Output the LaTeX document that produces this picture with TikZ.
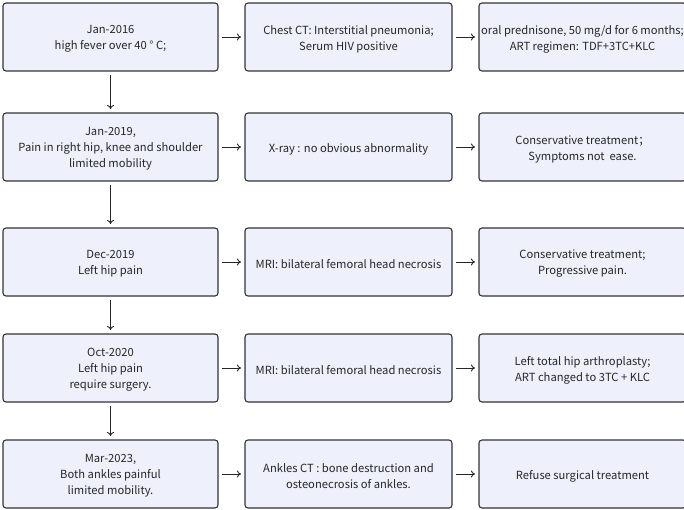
\documentclass[tikz,border=0pt]{standalone}
\usepackage{fontspec}
\setmainfont{Noto Sans CJK SC}
\usetikzlibrary{arrows.meta}
\definecolor{boxfill}{HTML}{EEF1FB}
\definecolor{boxline}{HTML}{333333}
\newcommand{\bx}[6]{%
  \node[#2] (#1) at (#3,#4) {};
  \node[txt] (t#1) at ([yshift=-2pt]#1.center) {#5#6};}
\begin{document}
\begin{tikzpicture}[x=1pt,y=-1pt,
  box/.style={draw=boxline, fill=boxfill, line width=1.1pt, rounded corners=3pt,
    minimum height=68pt, inner sep=0pt},
  txt/.style={inner sep=0pt, align=center,
    font=\fontsize{11.2}{16}\selectfont, text=black!85},
  c1/.style={box, minimum width=215pt},
  c2/.style={box, minimum width=207pt},
  c3/.style={box, minimum width=207pt},
  arr/.style={-{To[length=4pt,width=7pt]}, line width=0.9pt, black!85, shorten <=3.5pt, shorten >=3.5pt}]
\useasboundingbox (0,0) rectangle (684,510);
% rows
\bx{a1}{c1}{110.5}{37}{Jan-2016\\high fever over 40 ° C;}{}
\bx{b1}{c2}{348.5}{37}{Chest CT: Interstitial pneumonia;\\Serum HIV positive}{}
\bx{d1}{c3}{582.5}{37}{oral prednisone, 50 mg/d for 6 months;\\ART regimen: TDF+3TC+KLC}{}

\bx{a2}{c1}{110.5}{147}{Jan-2019,\\Pain in right hip, knee and shoulder\\limited mobility}{}
\bx{b2}{c2}{348.5}{147}{X-ray : no obvious abnormality}{}
\bx{d2}{c3}{582.5}{147}{Conservative treatment；\\Symptoms not~ ease.}{}

\bx{a3}{c1}{110.5}{262}{Dec-2019\\Left hip pain}{}
\bx{b3}{c2}{348.5}{262}{MRI: bilateral femoral head necrosis}{}
\bx{d3}{c3}{582.5}{262}{Conservative treatment;\\Progressive pain.}{}

\bx{a4}{c1}{110.5}{368}{Oct-2020\\Left hip pain\\require surgery.}{}
\bx{b4}{c2}{348.5}{368}{MRI: bilateral femoral head necrosis}{}
\bx{d4}{c3}{582.5}{368}{Left total hip arthroplasty;\\ART changed to 3TC + KLC}{}

\bx{a5}{c1}{110.5}{474}{Mar-2023,\\Both ankles painful\\limited mobility.}{}
\bx{b5}{c2}{348.5}{474}{Ankles CT : bone destruction and\\osteonecrosis of ankles.}{}
\bx{d5}{c3}{582.5}{474}{Refuse surgical treatment}{}

\foreach \i in {1,...,5}{
  \draw[arr] (a\i) -- (b\i);
  \draw[arr] (b\i) -- (d\i);
}
\draw[arr] (a1) -- (a2);
\draw[arr] (a2) -- (a3);
\draw[arr] (a3) -- (a4);
\draw[arr] (a4) -- (a5);
\end{tikzpicture}
\end{document}
